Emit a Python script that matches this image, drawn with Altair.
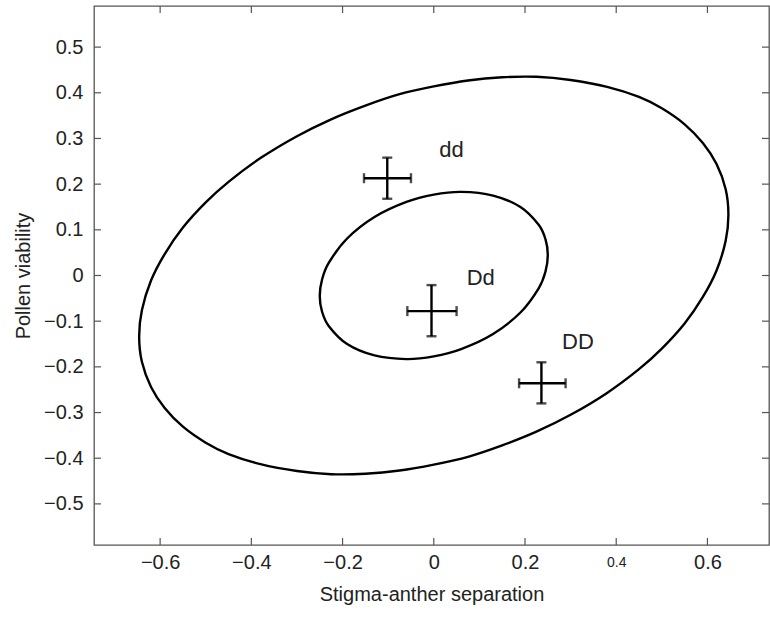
import altair as alt
import pandas as pd

# ---- data ----
x_ticks = [-0.6, -0.4, -0.2, 0, 0.2, 0.4, 0.6]
y_ticks = [-0.5, -0.4, -0.3, -0.2, -0.1, 0, 0.1, 0.2, 0.3, 0.4, 0.5]

outer_x = [0.646, 0.64, 0.62, 0.59, 0.55, 0.50, 0.45, 0.38, 0.30, 0.225, 0.15, 0.075, 0.0,
           -0.075, -0.15, -0.225, -0.30, -0.38, -0.45, -0.50, -0.55, -0.59, -0.62, -0.64, -0.646,
           -0.64, -0.62, -0.59, -0.55, -0.50, -0.45, -0.38, -0.30, -0.225, -0.15, -0.075, 0.0,
           0.075, 0.15, 0.225, 0.30, 0.38, 0.45, 0.50, 0.55, 0.59, 0.62, 0.64]
outer_y = [0.133, 0.189, 0.244, 0.290, 0.331, 0.366, 0.391, 0.413, 0.428, 0.435, 0.434, 0.427, 0.414,
           0.397, 0.372, 0.342, 0.305, 0.257, 0.205, 0.160, 0.105, 0.047, -0.011, -0.076, -0.133,
           -0.189, -0.244, -0.290, -0.331, -0.366, -0.391, -0.413, -0.428, -0.435, -0.434, -0.427, -0.414,
           -0.397, -0.372, -0.342, -0.305, -0.257, -0.205, -0.160, -0.105, -0.047, 0.011, 0.076]

inner_x = [0.25, 0.245, 0.23, 0.19, 0.13, 0.06, 0.0, -0.06, -0.13, -0.19, -0.23, -0.245,
           -0.25, -0.245, -0.23, -0.19, -0.13, -0.06, 0.0, 0.06, 0.13, 0.19, 0.23, 0.245]
inner_y = [0.045, 0.079, 0.111, 0.150, 0.175, 0.183, 0.177, 0.161, 0.128, 0.081, 0.028, -0.009,
           -0.045, -0.079, -0.111, -0.150, -0.175, -0.183, -0.177, -0.161, -0.128, -0.081, -0.028, 0.009]

genotypes = ["dd", "Dd", "DD"]
mean_x = [-0.102, -0.005, 0.236]
mean_y = [0.213, -0.078, -0.236]
x_lo = [-0.153, -0.058, 0.187]
x_hi = [-0.050, 0.050, 0.289]
y_lo = [0.168, -0.133, -0.280]
y_hi = [0.258, -0.021, -0.190]
label_x = [0.039, 0.103, 0.316]
label_y = [0.275, -0.005, -0.145]

# ---- tables ----
ell = pd.DataFrame({
    "x": outer_x + inner_x,
    "y": outer_y + inner_y,
    "ring": ["outer"] * len(outer_x) + ["inner"] * len(inner_x),
    "ord": list(range(len(outer_x))) + list(range(len(inner_x))),
})
eb = pd.DataFrame({"g": genotypes, "mx": mean_x, "my": mean_y,
                   "xlo": x_lo, "xhi": x_hi, "ylo": y_lo, "yhi": y_hi,
                   "lx": label_x, "ly": label_y})
xt = pd.DataFrame({"xv": x_ticks})
yt = pd.DataFrame({"yv": y_ticks})

W, H = 675, 539
FONT = "Liberation Sans"
LW = 2.4
XTITLE = "Stigma-anther separation"
YTITLE = "Pollen viability"

xs = alt.Scale(domain=[-0.745, 0.735], nice=False, zero=False)
ys = alt.Scale(domain=[-0.59, 0.59], nice=False, zero=False)

label_expr = "replace(format(datum.value, '~g'), '-', '\u2212')"
xaxis = alt.Axis(values=x_ticks, labelExpr=label_expr,
                 labelFontSize={"condition": {"test": "datum.value == 0.4", "value": 14}, "value": 20},
                 labelPadding={"condition": {"test": "datum.value == 0.4", "value": 10}, "value": 7},
                 titlePadding=12)
yaxis = alt.Axis(values=y_ticks, labelExpr=label_expr, labelPadding=11, titlePadding=10)


def X(f):
    return alt.X(f, scale=xs, axis=xaxis, title=XTITLE)


def Y(f):
    return alt.Y(f, scale=ys, axis=yaxis, title=YTITLE)


ellipses = alt.Chart(ell).mark_line(
    interpolate="cardinal-closed", color="black", strokeWidth=LW
).encode(x=X("x:Q"), y=Y("y:Q"), detail="ring:N", order="ord:Q")

base = alt.Chart(eb)
hbar = base.mark_rule(color="black", strokeWidth=LW).encode(x=X("xlo:Q"), x2="xhi:Q", y=Y("my:Q"))
vbar = base.mark_rule(color="black", strokeWidth=LW).encode(y=Y("ylo:Q"), y2="yhi:Q", x=X("mx:Q"))
cap_l = base.mark_tick(orient="vertical", color="black", size=10, thickness=LW).encode(x=X("xlo:Q"), y=Y("my:Q"))
cap_r = base.mark_tick(orient="vertical", color="black", size=10, thickness=LW).encode(x=X("xhi:Q"), y=Y("my:Q"))
cap_b = base.mark_tick(orient="horizontal", color="black", size=10, thickness=LW).encode(x=X("mx:Q"), y=Y("ylo:Q"))
cap_t = base.mark_tick(orient="horizontal", color="black", size=10, thickness=LW).encode(x=X("mx:Q"), y=Y("yhi:Q"))
labels = base.mark_text(font=FONT, fontSize=22, color="#222", align="center", baseline="middle").encode(
    x=X("lx:Q"), y=Y("ly:Q"), text="g:N")

TK = 7
TC = "#555"
tb = alt.Chart(xt).mark_rule(color=TC, strokeWidth=1.2).encode(
    x=X("xv:Q"), y=alt.value(H), y2=alt.value(H - TK))
tt = alt.Chart(xt).mark_rule(color=TC, strokeWidth=1.2).encode(
    x=X("xv:Q"), y=alt.value(0), y2=alt.value(TK))
tl = alt.Chart(yt).mark_rule(color=TC, strokeWidth=1.2).encode(
    y=Y("yv:Q"), x=alt.value(0), x2=alt.value(TK))
tr = alt.Chart(yt).mark_rule(color=TC, strokeWidth=1.2).encode(
    y=Y("yv:Q"), x=alt.value(W), x2=alt.value(W - TK))

chart = alt.layer(
    ellipses, hbar, vbar, cap_l, cap_r, cap_b, cap_t, labels, tb, tt, tl, tr
).properties(
    width=W, height=H,
    autosize=alt.AutoSizeParams(type="none"),
    padding={"left": 94, "top": 6, "right": 1, "bottom": 76},
).configure_view(
    stroke="#555", strokeWidth=1.3
).configure_axis(
    labelFont=FONT, titleFont=FONT, labelFontSize=20, titleFontSize=20,
    titleFontWeight="normal", labelColor="#222", titleColor="#222",
    domain=False, ticks=False, grid=False,
)

chart.save("out.html", embed_options={"renderer": "svg", "actions": False})
